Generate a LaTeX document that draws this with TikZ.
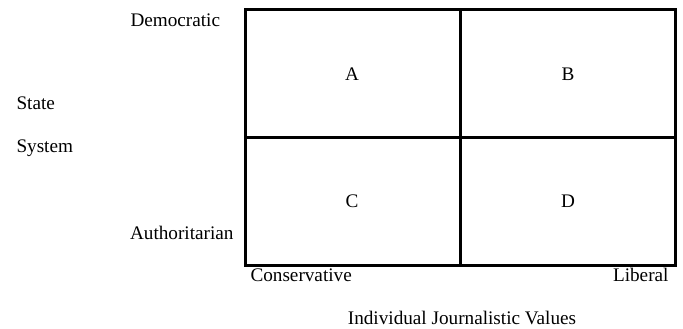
\documentclass[tikz,border=0pt]{standalone}
\usepackage{fontspec}
\setmainfont{Liberation Serif}
\usetikzlibrary{positioning}

\begin{document}
\begin{tikzpicture}[x=1pt, y=-1pt, line width=3pt,
		lbl/.style={font=\fontsize{19.2}{22}\selectfont, inner sep=0pt}]
			\useasboundingbox (0,0) rectangle (683,329);
			% grid corners
			\coordinate (nw) at (245,10);
			\coordinate (se) at (675,265);
			\coordinate (top) at (460,10);
			\coordinate (bot) at (460,265);
			\coordinate (lft) at (245,137);
			\coordinate (rgt) at (675,137);
			\draw (nw) rectangle (se);
			\draw (top) -- (bot);
			\draw (lft) -- (rgt);
			% cells
			\node[lbl] (cellA) at (352,74)  {A};
			\node[lbl] (cellB) at (568,74)  {B};
			\node[lbl] (cellC) at (352,201) {C};
			\node[lbl] (cellD) at (568,201) {D};
			% axis labels
			\node[lbl, anchor=west] (demo) at (129,20)  {Democratic};
			\node[lbl, anchor=east] (auth) at (235,233) {Authoritarian};
			\node[lbl, anchor=west] (state) at (15,103) {State};
			\node[lbl, anchor=west] (system) at (15,148) {System};
			\node[lbl, anchor=west] (cons) at (249,275) {Conservative};
			\node[lbl, anchor=east] (lib) at (670,275) {Liberal};
			\node[lbl] (values) at (462,318) {Individual Journalistic Values};
	\end{tikzpicture}
\end{document}
